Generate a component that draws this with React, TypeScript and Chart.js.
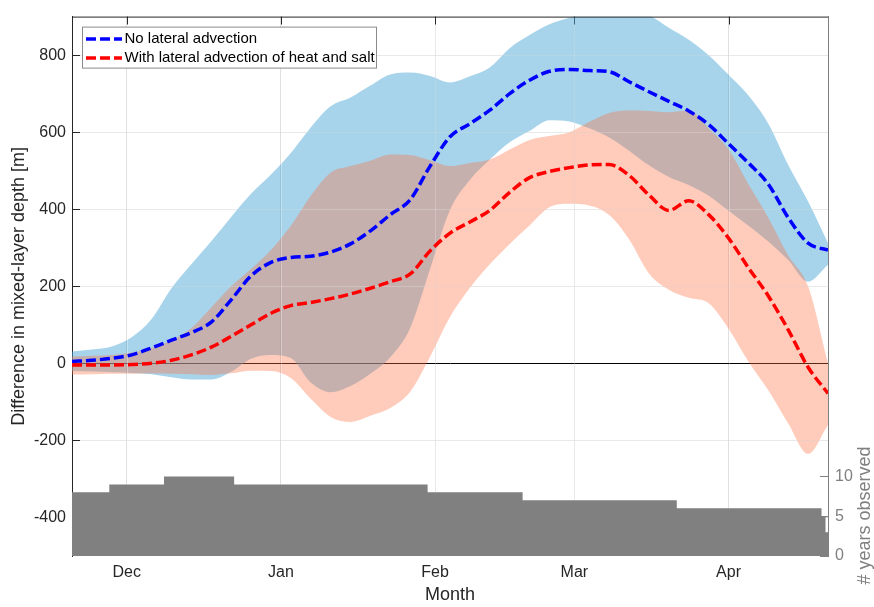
import { useEffect, useRef } from "react"
import { Chart, registerables } from "chart.js"

Chart.register(...registerables)

// days counted from 1 December
const days = [
  -11, -7, -3, 1, 5, 9, 13, 17, 21, 25, 29, 33, 37, 41, 45, 49, 53, 57, 61, 65,
  69, 73, 77, 81, 85, 89, 93, 97, 101, 105, 109, 113, 117, 121, 125, 129, 133, 137, 141,
]

// no lateral advection: mean and spread
const noAdvMean = [
  5, 8, 13, 22, 40, 60, 80, 107, 165, 227, 262, 275, 278, 289, 310, 344, 386, 425, 512, 588,
  622, 657, 700, 735, 758, 763, 760, 757, 731, 705, 680, 655, 620, 570, 520, 465, 378, 312, 294,
]
const noAdvUpper = [
  31, 36, 44, 68, 115, 195, 257, 317, 380, 440, 490, 546, 612, 667, 690, 721, 750, 755, 746, 729,
  745, 768, 818, 852, 880, 897, 912, 918, 914, 903, 871, 840, 800, 749, 695, 622, 515, 420, 312,
]
const noAdvLower = [
  -20, -21, -23, -25, -28, -36, -42, -42, -22, 12, 22, 14, -50, -75, -59, -27, 16, 92, 245, 398,
  476, 529, 574, 603, 631, 628, 610, 586, 552, 514, 484, 463, 435, 396, 357, 316, 268, 212, 256,
]

// with lateral advection of heat and salt: mean and spread
const advMean = [
  -4, -4, -4, -3, 0, 8, 22, 42, 70, 100, 130, 150, 158, 168, 180, 195, 212, 232, 292, 338,
  367, 397, 444, 482, 498, 508, 515, 516, 488, 437, 397, 422, 386, 325, 248, 175, 87, -10, -78,
]
const advUpper = [
  18, 20, 22, 28, 40, 60, 92, 145, 200, 245, 294, 357, 435, 495, 512, 526, 542, 541, 527, 512,
  520, 529, 555, 580, 590, 600, 627, 650, 656, 655, 652, 656, 610, 555, 465, 378, 280, 200, 0,
]
const advLower = [
  -29, -28, -27, -27, -26, -27, -28, -30, -26, -19, -20, -38, -92, -139, -152, -136, -116, -74, 17, 120,
  196, 257, 310, 358, 405, 414, 410, 385, 322, 233, 191, 170, 156, 90, 5, -70, -156, -235, -160,
]

// number of years observed, each level holds from its start day to the next
const obsStartDays = [-11, -3.5, 7.5, 21.6, 60.5, 79.6, 110.6, 139.7, 140.5, 141]
const obsYears = [8, 9, 10, 9, 8, 7, 6, 5, 3, 3]

const monthDays = [0, 31, 62, 90, 121]
const monthLabels = ["Dec", "Jan", "Feb", "Mar", "Apr"]
const depthTicks = [-400, -200, 0, 200, 400, 600, 800]
const yearTicks = [0, 5, 10]

const FONT = '"Liberation Sans", Arial, Helvetica, sans-serif'
const AXIS_COLOR = "#262626"
const RIGHT_COLOR = "#808080"
const GRID_COLOR = "rgba(38, 38, 38, 0.14)"

const toPoints = (xs: number[], ys: number[]) => xs.map((x, i) => ({ x, y: ys[i] }))

// years observed at a given day (for stopping grid lines at the bars)
const yearsAt = (d: number) => {
  let v = obsYears[0]
  obsStartDays.forEach((s, i) => {
    if (d >= s) v = obsYears[i]
  })
  return v
}

// MATLAB-like frame: inward ticks, grid over the shading, top edge, legend box, right axis label
const frame = {
  id: "frame",
  beforeDatasetsDraw(chart: any) {
    const { ctx, chartArea: a, scales } = chart
    ctx.save()
    ctx.lineWidth = 1
    ctx.strokeStyle = AXIS_COLOR
    ctx.beginPath()
    for (const v of depthTicks) {
      const y = Math.round(scales.y.getPixelForValue(v)) + 0.5
      ctx.moveTo(a.left, y)
      ctx.lineTo(a.left + 8, y)
    }
    for (const d of monthDays) {
      const x = Math.round(scales.x.getPixelForValue(d)) + 0.5
      ctx.moveTo(x, a.top)
      ctx.lineTo(x, a.top + 8)
    }
    ctx.stroke()
    ctx.strokeStyle = RIGHT_COLOR
    ctx.beginPath()
    for (const v of yearTicks) {
      const y = Math.round(scales.y2.getPixelForValue(v)) + 0.5
      ctx.moveTo(a.right, y)
      ctx.lineTo(a.right - 8, y)
    }
    ctx.stroke()
    ctx.restore()
  },
  afterDatasetDraw(chart: any, args: any) {
    // light grid showing through the shaded spreads, before the mean lines
    if (args.index !== 2) return
    const { ctx, chartArea: a, scales } = chart
    ctx.save()
    ctx.lineWidth = 1
    ctx.strokeStyle = "rgba(255, 255, 255, 0.3)"
    ctx.beginPath()
    for (const v of depthTicks) {
      if (v === 0 || v === -400) continue
      const y = Math.round(scales.y.getPixelForValue(v)) + 0.5
      ctx.moveTo(a.left + 8, y)
      ctx.lineTo(a.right, y)
    }
    for (const d of monthDays) {
      const x = Math.round(scales.x.getPixelForValue(d)) + 0.5
      ctx.moveTo(x, a.top + 8)
      ctx.lineTo(x, scales.y2.getPixelForValue(yearsAt(d)))
    }
    ctx.stroke()
    ctx.restore()
  },
  afterDatasetsDraw(chart: any) {
    const { ctx, chartArea: a } = chart
    ctx.save()
    ctx.lineWidth = 1
    ctx.strokeStyle = AXIS_COLOR
    ctx.beginPath()
    ctx.moveTo(a.left, a.top + 0.5)
    ctx.lineTo(a.right, a.top + 0.5)
    ctx.stroke()

    // legend
    const bx = a.left + 10.5
    const by = a.top + 10.5
    ctx.fillStyle = "#fff"
    ctx.fillRect(bx, by, 294, 41)
    ctx.strokeStyle = "#8a8a8a"
    ctx.strokeRect(bx, by, 294, 41)
    const rows = [1, 0]
    rows.forEach((idx, r) => {
      const ds = chart.data.datasets[idx]
      const y = a.top + 22.3 + r * 19
      ctx.save()
      ctx.strokeStyle = ds.borderColor
      ctx.lineWidth = ds.borderWidth
      ctx.setLineDash(ds.borderDash)
      ctx.beginPath()
      ctx.moveTo(a.left + 14, y)
      ctx.lineTo(a.left + 50, y)
      ctx.stroke()
      ctx.restore()
      ctx.fillStyle = "#000"
      ctx.font = `15px ${FONT}`
      ctx.textAlign = "left"
      ctx.textBaseline = "middle"
      ctx.fillText(ds.label, a.left + 52.5, y)
    })
    ctx.restore()
  },
  afterDraw(chart: any) {
    const { ctx, scales } = chart
    ctx.save()
    ctx.translate(865, scales.y2.getPixelForValue(5.1))
    ctx.rotate(-Math.PI / 2)
    ctx.fillStyle = RIGHT_COLOR
    ctx.font = `18px ${FONT}`
    ctx.textAlign = "center"
    ctx.textBaseline = "middle"
    ctx.fillText("# years observed", 0, 0)
    ctx.restore()
  },
}

export default function App() {
  const chartRef = useRef<HTMLCanvasElement>(null)
  const chartInstance = useRef<Chart | null>(null)

  useEffect(() => {
    if (!chartRef.current) return
    if (chartInstance.current) chartInstance.current.destroy()

    Chart.defaults.font.family = FONT
    Chart.defaults.color = AXIS_COLOR

    const band = { borderColor: "transparent", borderWidth: 0, pointRadius: 0, cubicInterpolationMode: "monotone" as const }

    chartInstance.current = new Chart(chartRef.current, {
      type: "line",
      data: {
        datasets: [
          {
            label: "With lateral advection of heat and salt",
            data: toPoints(days, advMean),
            borderColor: "#ff0000",
            borderWidth: 3.5,
            borderDash: [10, 4],
            pointRadius: 0,
            cubicInterpolationMode: "monotone",
            fill: false,
            order: 0,
          },
          {
            label: "No lateral advection",
            data: toPoints(days, noAdvMean),
            borderColor: "#0000ff",
            borderWidth: 3.5,
            borderDash: [10, 4],
            pointRadius: 0,
            cubicInterpolationMode: "monotone",
            fill: false,
            order: 1,
          },
          {
            label: "adv upper",
            data: toPoints(days, advUpper),
            ...band,
            fill: 3,
            backgroundColor: "rgba(255, 114, 67, 0.36)",
            order: 2,
          },
          { label: "adv lower", data: toPoints(days, advLower), ...band, fill: false, order: 3 },
          {
            label: "no adv upper",
            data: toPoints(days, noAdvUpper),
            ...band,
            fill: 5,
            backgroundColor: "rgba(80, 170, 215, 0.5)",
            order: 4,
          },
          { label: "no adv lower", data: toPoints(days, noAdvLower), ...band, fill: false, order: 5 },
          {
            label: "# years observed",
            data: toPoints(obsStartDays, obsYears),
            yAxisID: "y2",
            stepped: true,
            fill: "origin",
            backgroundColor: "#808080",
            borderColor: "transparent",
            borderWidth: 0,
            pointRadius: 0,
            order: 6,
          },
        ],
      },
      options: {
        responsive: true,
        maintainAspectRatio: false,
        animation: false,
        layout: { padding: { top: 7, left: 0, right: 0, bottom: 0 } },
        plugins: {
          legend: { display: false },
          tooltip: { enabled: false },
        },
        scales: {
          x: {
            type: "linear",
            min: -11,
            max: 141,
            afterBuildTicks: (axis) => {
              axis.ticks = monthDays.map((value) => ({ value }))
            },
            afterFit: (axis) => {
              axis.height = 51
            },
            ticks: {
              callback: (value) => monthLabels[monthDays.indexOf(Number(value))] ?? "",
              padding: 7,
              maxRotation: 0,
              autoSkip: false,
              color: AXIS_COLOR,
              font: { size: 16 },
            },
            grid: { color: GRID_COLOR, drawTicks: false },
            border: { display: false },
            title: {
              display: true,
              text: "Month",
              color: AXIS_COLOR,
              font: { size: 18 },
              padding: { top: 0, bottom: 1 },
            },
          },
          y: {
            position: "left",
            min: -500,
            max: 900,
            afterBuildTicks: (axis) => {
              axis.ticks = depthTicks.map((value) => ({ value }))
            },
            afterFit: (axis) => {
              axis.width = 72
            },
            ticks: { padding: 6, color: AXIS_COLOR, font: { size: 16 } },
            grid: {
              color: (ctx) => (ctx.tick && ctx.tick.value === 0 ? "#000000" : GRID_COLOR),
              drawTicks: false,
            },
            border: { color: AXIS_COLOR },
            title: {
              display: true,
              text: "Difference in mixed-layer depth [m]",
              color: AXIS_COLOR,
              font: { size: 18 },
              padding: { top: 8.6, bottom: 0 },
            },
          },
          y2: {
            position: "right",
            min: 0,
            max: 67.8,
            afterBuildTicks: (axis) => {
              axis.ticks = yearTicks.map((value) => ({ value }))
            },
            afterFit: (axis) => {
              axis.width = 46
            },
            ticks: { padding: 7, color: RIGHT_COLOR, font: { size: 16 } },
            grid: { drawOnChartArea: false, drawTicks: false },
            border: { color: RIGHT_COLOR },
          },
        },
      },
      plugins: [frame],
    })

    return () => {
      if (chartInstance.current) {
        chartInstance.current.destroy()
        chartInstance.current = null
      }
    }
  }, [])

  return (
    <div style={{ position: "fixed", left: 0, top: 0, width: 874, height: 607, background: "#fff" }}>
      <canvas ref={chartRef} />
    </div>
  )
}
